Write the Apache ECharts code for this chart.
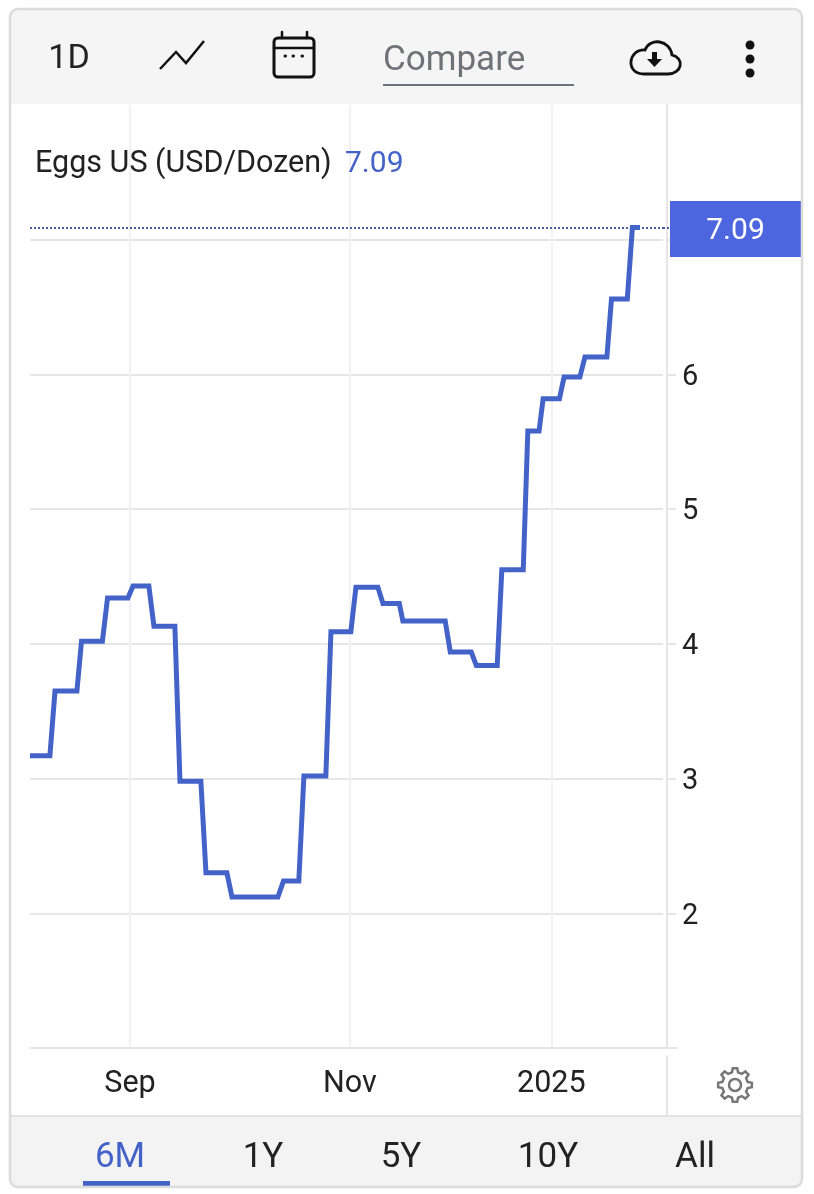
<!DOCTYPE html>
<html><head><meta charset="utf-8">
<style>html,body{margin:0;padding:0;background:#fff}#c{width:814px;height:1194px}</style>
<script src="https://cdn.jsdelivr.net/npm/echarts@6/dist/echarts.min.js"></script>
</head><body><div id="c"></div>
<script>
const seriesName = 'Eggs US (USD/Dozen)';
const lastValue = 7.09;
const sessions = [0,3.9,4.9,9.2,10.1,14.2,15.2,19.2,20.2,23.3,24.3,28.4,29.4,33.5,34.5,38.6,39.6,48.6,49.7,52.7,53.7,58,59,62.9,63.9,68.2,69.2,72.4,73.1,81.4,82.4,86.5,87.5,91.6,92.5,96.7,97.6,99.8,100.6,103.8,104.7,107.8,108.8,113.1,114,117.1,118.1,119.6];
const prices = [3.17,3.17,3.65,3.65,4.02,4.02,4.34,4.34,4.43,4.43,4.13,4.13,2.98,2.98,2.30,2.30,2.12,2.12,2.24,2.24,3.02,3.02,4.09,4.09,4.42,4.42,4.30,4.30,4.17,4.17,3.94,3.94,3.84,3.84,4.55,4.55,5.58,5.58,5.82,5.82,5.98,5.98,6.13,6.13,6.56,6.56,7.09,7.09];
const xTickSessions = [19.6,62.7,102.2];
const xTickLabels = ['Sep','Nov','2025'];
const yTicks = [2,3,4,5,6,7];
const yLabels = [2,3,4,5,6];
const ranges = ['6M','1Y','5Y','10Y','All'];
const rangeX = [120,263,401,548,695];

const FONT='Roboto', BLUE='#4463c9', INK='#222';
echarts.graphic.registerShape('cloudIcon', echarts.graphic.extendShape({
  shape:{},
  buildPath(ctx){
    ctx.moveTo(644,74); ctx.lineTo(668,74);
    ctx.bezierCurveTo(682,74,685,58,672,55);
    ctx.bezierCurveTo(670,40,650,37,645,50);
    ctx.bezierCurveTo(628,49,625,74,644,74);
    ctx.closePath();
  }
}));
function txt(x,y,t,size,fill,align){return {type:'text',z:20,style:{x,y,text:t,fontFamily:FONT,fontSize:size,fill:fill||INK,align:align||'center',verticalAlign:'middle'}};}
function ln(x1,y1,x2,y2,stroke,w){return {type:'line',z:20,shape:{x1,y1,x2,y2},style:{stroke,lineWidth:w,lineCap:'round'}};}
function gear(cx,cy,r1,r2,n){const p=[];for(let i=0;i<n;i++){const a=i/n*2*Math.PI-Math.PI/2,s=2*Math.PI/n;
  [[-.30,r1],[-.17,r2],[.17,r2],[.30,r1]].forEach(o=>{const b=a+o[0]*s;p.push([cx+o[1]*Math.cos(b),cy+o[1]*Math.sin(b)]);});}return p;}

const graphics = [
 {type:'rect',z:1,shape:{x:11,y:10,width:790,height:94},style:{fill:'#f5f5f5'}},
 {type:'rect',z:1,shape:{x:11,y:1116,width:790,height:70},style:{fill:'#f3f3f3'}},
 {type:'rect',z:25,shape:{x:10,y:9,width:792,height:1178,r:8},style:{fill:'none',stroke:'#dcdcdc',lineWidth:2.5}},
 ln(11,1116,801,1116,'#e2e2e2',2),
 txt(69,59,'1D',34),
 {type:'polyline',z:20,shape:{points:[[160,69],[176,52],[186,63],[204,41]]},style:{fill:'none',stroke:'#111',lineWidth:2.5}},
 {type:'rect',z:20,shape:{x:274,y:38,width:40,height:39,r:4},style:{fill:'none',stroke:'#111',lineWidth:3}},
 ln(274,48,314,48,'#111',2.5), ln(282,32,282,38,'#111',2.5), ln(307,32,307,38,'#111',2.5),
 ln(285,56,285.5,56,'#111',3), ln(293,56,293.5,56,'#111',3), ln(302,56,302.5,56,'#111',3),
 txt(383,61,'Compare',35,'#6f7378','left'),
 {type:'rect',z:20,shape:{x:383,y:84,width:191,height:2},style:{fill:'#6b7280'}},
 {type:'cloudIcon',z:20,style:{fill:'none',stroke:'#111',lineWidth:2.8}},
 {type:'rect',z:20,shape:{x:652,y:52,width:5,height:8},style:{fill:'#111'}},
 {type:'polygon',z:20,shape:{points:[[647,59],[662,59],[654.5,67]]},style:{fill:'#111'}},
 {type:'circle',z:20,shape:{cx:750,cy:45,r:4.5},style:{fill:'#111'}},
 {type:'circle',z:20,shape:{cx:750,cy:59,r:4.5},style:{fill:'#111'}},
 {type:'circle',z:20,shape:{cx:750,cy:73,r:4.5},style:{fill:'#111'}},
 txt(35,164,seriesName,30.5,INK,'left'),
 txt(345,164,String(lastValue),30,BLUE,'left'),
 ln(667,1056,667,1116,'#e6e6e6',2),
 ln(663,1048,677,1048,'#e6e6e6',2),
 {type:'line',z:20,shape:{x1:663,y1:228,x2:671,y2:228},style:{stroke:'#4a5f9e',lineWidth:2,lineDash:[2,2]}},
 {type:'polygon',z:20,shape:{points:gear(735,1085,13,17,8)},style:{fill:'none',stroke:'#777',lineWidth:2.5}},
 {type:'circle',z:20,shape:{cx:735,cy:1085,r:6},style:{fill:'none',stroke:'#777',lineWidth:2.5}},
 {type:'rect',z:20,shape:{x:83,y:1181,width:87,height:5},style:{fill:BLUE}},
 ...ranges.map((r,i)=>txt(rangeX[i],1158,r,35,i===0?BLUE:INK))
];

const chart = echarts.init(document.getElementById('c'),null,{renderer:'canvas'});
chart.setOption({
 animation:false,
 backgroundColor:'#fff',
 grid:{left:30,top:105,width:633,height:943,containLabel:false},
 xAxis:{type:'value',min:0,max:124.1,
  axisLine:{show:true,lineStyle:{color:'#e6e6e6',width:2}},
  axisTick:{show:false,customValues:xTickSessions},
  axisLabel:{customValues:xTickSessions,margin:21,fontFamily:FONT,fontSize:30.5,color:INK,
    formatter:v=>xTickLabels[xTickSessions.indexOf(v)]},
  splitLine:{show:true,lineStyle:{color:'#f0f2f6',width:2}}},
 yAxis:{type:'value',position:'right',min:1,max:8,offset:4,
  axisLine:{show:true,onZero:false,lineStyle:{color:'#e6e6e6',width:2}},
  axisTick:{show:true,length:9,customValues:yTicks,lineStyle:{color:'#e6e6e6',width:2}},
  axisLabel:{customValues:yLabels,margin:15,formatter:'{t|{value}}',
    rich:{t:{padding:[6,0,0,0],fontFamily:FONT,fontSize:29,color:INK}}},
  splitLine:{show:true,lineStyle:{color:'#e6e6e6',width:2}}},
 series:[{type:'line',name:seriesName,data:sessions.map((s,i)=>[s,prices[i]]),showSymbol:false,symbol:'none',
  lineStyle:{color:BLUE,width:5,join:'miter'},z:5,
  markLine:{silent:true,symbol:'none',
   data:[[{coord:[0,lastValue]},{coord:[124.1,lastValue]}]],
   lineStyle:{type:'dotted',color:'#4a5f9e',width:2},
   label:{show:true,position:'end',distance:9,formatter:'{v|'+lastValue+'}',align:'left',offset:[-2,1.5],
     padding:[2,0,3,0],backgroundColor:'#4d66e0',
     rich:{v:{width:131,height:51,lineHeight:51,padding:[5,0,0,0],align:'center',color:'#fff',fontFamily:FONT,fontSize:30}}}}}],
 graphic:graphics
});
</script></body></html>
